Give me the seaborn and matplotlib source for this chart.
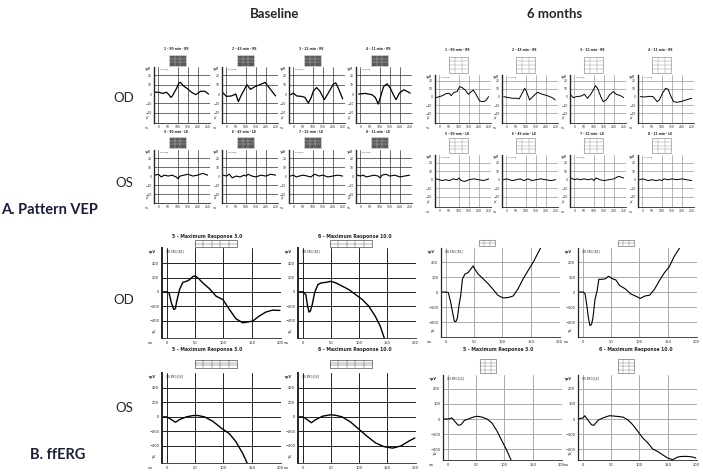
import matplotlib
matplotlib.use('Agg')
import matplotlib.pyplot as plt
from matplotlib.patches import Rectangle
from matplotlib.ticker import MultipleLocator
import seaborn as sns

sns.set_theme(style='white')
plt.rcParams['font.family'] = ['DejaVu Sans']

W, H = 703, 474

# ---------------- data ----------------
vep_titles_od = ['1 - 90 min - RE', '2 - 45 min - RE', '3 - 22 min - RE', '4 - 11 min - RE']
vep_titles_os = ['5 - 90 min - LE', '6 - 45 min - LE', '7 - 22 min - LE', '8 - 11 min - LE']
erg_titles = ['5 - Maximum Response 3.0', '6 - Maximum Response 10.0']

# baseline OD pattern VEP (ms, uV)
b_od1_ms = [-17, 0, 24, 41, 55, 63, 71, 92, 105, 112, 126, 146, 168, 190, 214, 236, 255]
b_od1_uv = [2, 2, 0.7, 2, -1, -3.6, -2, 6, 12, 12.5, 9, 6, 2, -0.7, 3, 3, 0]
b_od2_ms = [-20, 0, 26, 48, 61, 77, 94, 105, 122, 145, 170, 196, 213, 235, 250]
b_od2_uv = [2, -2.5, -2, 0, -8, -0.7, 6, 10, 5, 8, 10, 12.5, 8, 2, -2]
b_od3_ms = [-14, 0, 17, 42, 59, 76, 90, 101, 118, 135, 157, 177, 203, 215, 228, 250]
b_od3_uv = [-0.7, 1, -2, -2.5, -3.6, -9.6, -4, 3, 7, 3, -6, 1, 10.7, 12, 6.4, -5]
b_od4_ms = [-8, 25, 59, 76, 91, 103, 118, 135, 152, 169, 181, 198, 220, 236, 253]
b_od4_uv = [0, 0.7, -0.7, -3.6, -10.7, -2.5, 8, 11, 6.4, -1.4, -6, 1, 4.6, 3, 1]

# OS pattern VEP traces share one time base
vep_os_ms = [-15, 0, 15, 30, 50, 70, 90, 100, 110, 130, 150, 175, 200, 225, 250]
b_os1_uv = [1, 2, -1, 1, 0, 1, -1, -3, 0, 1, 2, 0, 1, 3, 1]
b_os2_uv = [1, 0, 2, -2, 0, -1, 1, 0, 2, 0, -1, 1, 0, 2, 1]
b_os3_uv = [0, 1, -1, 0, 1, 0, -1, 1, 2, 0, 1, -1, 0, 1, 0]
b_os4_uv = [1, 0, 1, -1, 0, 1, 0, -2, 1, 2, 0, 1, -1, 0, 1]

# 6 months OD pattern VEP
m_od1_ms = [-16, 0, 16, 33, 49, 60, 74, 90, 103, 114, 131, 147, 158, 172, 188, 204, 221, 234, 250]
m_od1_uv = [-0.8, 0.4, 1.6, 4, 4.5, 1.6, 5.7, 6.5, 12.6, 11.8, 8.6, 3.3, 5.7, 8.6, 2.4, -4.9, -5.7, -4.9, 0.4]
m_od2_ms = [-13, 11, 31, 52, 65, 80, 93, 101, 118, 134, 158, 183, 208, 232, 248]
m_od2_uv = [0.4, -0.8, -1.6, -1.6, -2.4, 4.5, 10.6, 7.3, -3.7, 0.4, 5.7, 3.3, 1.6, -0.8, -3.7]
m_od3_ms = [-21, -5, 11, 35, 51, 67, 83, 96, 107, 118, 134, 146, 162, 178, 197, 213, 234, 250]
m_od3_uv = [3, -0.8, 0.4, 1.2, 3.3, -1.6, 3.3, 8.6, 13.9, 10.6, 0.4, -5.7, -3.7, 2.4, 6.5, 3.3, 1.6, -0.8]
m_od4_ms = [-10, 14, 38, 54, 75, 86, 102, 118, 131, 142, 158, 174, 197, 221, 250]
m_od4_uv = [0.4, 0, 0.8, 0.4, -5.7, -3.7, 4.5, 10.6, 9.4, 2.4, -5.7, -6.5, -5.7, -3.7, -1.6]

m_os1_uv = [1, 0, -1, 0, -1, 1, 0, 2, -1, -2, 0, 1, 0, -1, 1]
m_os2_uv = [0, 1, 0, -1, 0, 1, -1, 0, 1, -1, 0, 1, 0, -1, 0]
m_os3_uv = [2, 0, 1, 0, 1, 0, 1, -1, 2, 0, -1, 0, 1, 4, 2]
m_os4_uv = [0, 1, 0, -1, 0, -1, 0, -1, 1, 0, 1, 0, 1, 0, -1]

# baseline ffERG
erg_b_od30_ms = [-9, 0, 3.5, 7.6, 12, 15, 16.5, 22, 28, 34, 40, 46, 50, 55, 63.5, 75, 87, 99, 110.6,
                 122, 134, 143, 152, 163.5, 175, 187, 200]
erg_b_od30_uv = [0, 0, -14, -152, -244, -230, -152, 32, 133, 147, 170, 216, 220, 193, 124, 46, -60, -106,
                 -244, -372, -428, -418, -404, -335, -280, -253, -257]
erg_b_od10_ms = [-9, 0, 5, 7.6, 10.6, 13, 16.5, 20.6, 26.5, 32, 41, 50, 59, 70.6, 82, 94, 106, 117.6,
                 129, 138, 144, 148]
erg_b_od10_uv = [0, 0, -37, -175, -280, -267, -175, -14, 101, 124, 133, 147, 124, 78, 32, -37, -106,
                 -198, -336, -474, -612, -700]
erg_b_os30_ms = [-9, 0, 7.6, 15, 22, 34, 46, 55, 66.5, 81, 96, 110.6, 122, 134, 141, 146]
erg_b_os30_uv = [0, 0, -37, -74, -37, 0, 19, 19, 0, -60, -153, -233, -340, -502, -619, -700]
erg_b_os10_ms = [-9, 0, 8, 15, 22, 35, 50, 60, 70, 85, 100, 115, 130, 145, 160, 175, 190, 200]
erg_b_os10_uv = [0, 0, -40, -80, -40, 10, 30, 20, 0, -70, -170, -270, -360, -410, -430, -400, -330, -290]

# 6 months ffERG
erg_m_od30_ms = [-10, 0, 4, 8, 11.8, 14.7, 17.6, 20, 23, 26, 29, 33.5, 39, 43.5, 48, 51, 57, 66, 75,
                 83.5, 92, 101, 110, 119, 127.6, 136.5, 145, 154, 163, 169, 175]
erg_m_od30_uv = [0, 0, -4, -65, -141, -196, -196, -174, -87, -22, 87, 120, 130, 152, 174, 152, 120, 87,
                 54, 17, -22, -39, -37, -26, 22, 87, 141, 196, 261, 304, 350]
erg_m_od10_ms = [-10, 0, 3.5, 6.5, 9.4, 12, 15, 17.6, 21, 25, 28, 34, 40, 45, 52, 58, 65, 75, 84, 96,
                 101, 110, 118, 127, 135, 144, 153, 161, 170, 176]
erg_m_od10_uv = [0, 0, -11, -85, -170, -223, -217, -170, -53, 11, 85, 85, 89, 106, 89, 81, 43, 21, -11,
                 -32, -43, -26, -21, 21, 74, 128, 170, 234, 287, 330]
erg_m_os30_ms = [-11, 0, 7, 12, 18, 23, 29, 36, 45, 51, 60, 69, 78, 87, 96, 105, 114, 120]
erg_m_os30_uv = [0, 0, 7, -16, -42, -38, -9, 0, 13, 18, 13, 0, -27, -82, -149, -216, -293, -340]
erg_m_os10_ms = [-10.6, 0, 3, 9, 15, 19, 26.5, 35, 47, 59, 70.6, 79, 88, 97, 106, 115, 123.5, 132, 141,
                 150, 159, 168, 176, 185, 194, 200]
erg_m_os10_uv = [0, 7, 22, -9, -38, -42, -9, 7, 22, 18, 13, -4, -38, -82, -127, -160, -200, -216, -238,
                 -260, -271, -253, -249, -249, -253, -260]

fig = plt.figure(figsize=(W / 100, H / 100), dpi=100)
fig.patch.set_facecolor('white')

# overlay in pixel coordinates for labels and the little result tables
ov = fig.add_axes([0, 0, 1, 1], zorder=5)
ov.set_xlim(0, W)
ov.set_ylim(H, 0)
ov.axis('off')
ov.patch.set_alpha(0)


def px_axes(x0, y0, x1, y1):
    return fig.add_axes([x0 / W, 1 - y1 / H, (x1 - x0) / W, (y1 - y0) / H])


def table(x0, y0, w, h, nr, nc, face, edge):
    ov.add_patch(Rectangle((x0, y0), w, h, fc=face, ec=edge, lw=0.4))
    for i in range(1, nr):
        ov.plot([x0, x0 + w], [y0 + i * h / nr] * 2, color=edge, lw=0.25)
    for j in range(1, nc):
        ov.plot([x0 + j * w / nc] * 2, [y0, y0 + h], color=edge, lw=0.25)


def vep_panel(x0, y0, y1, ms, uv, ylim, grid_col, lw, title, title_y, tab):
    ax = px_axes(x0, y0, x0 + 56, y1)
    for v in [0, 100, 150, 200]:
        ax.axvline(v, color=grid_col, lw=0.5, zorder=0)
    for v in [-20, -10, 10, 20]:
        ax.axhline(v, color=grid_col, lw=0.5, zorder=0)
    sns.lineplot(x=ms, y=uv, ax=ax, color='black', lw=lw, sort=False, estimator=None)
    ax.set_xlim(-22, 262)
    ax.set_ylim(*ylim)
    ax.set_xticks([0, 50, 100, 150, 200, 250])
    ax.set_yticks([-20, -10, 0, 10, 20])
    ax.xaxis.set_minor_locator(MultipleLocator(10))
    ax.tick_params(axis='both', which='major', length=1.2, width=0.4, pad=0.6, labelsize=2.2)
    ax.tick_params(axis='x', which='minor', length=0.8, width=0.3)
    for s in ['top', 'right']:
        ax.spines[s].set_visible(False)
    ax.spines['left'].set_linewidth(1.0)
    ax.spines['bottom'].set_linewidth(0.6)
    ax.set_xlabel('')
    ax.set_ylabel('')
    ax.text(-0.12, 1.0, '+µV', transform=ax.transAxes, fontsize=1.8, ha='center', va='top', fontweight='bold')
    ax.text(-0.12, 0.08, 'µV', transform=ax.transAxes, fontsize=1.8, ha='center')
    ax.text(-0.14, -0.06, 'ms', transform=ax.transAxes, fontsize=1.8, ha='center', va='top')
    ax.text(0.1, 0.97, 'Cz (Ref)', transform=ax.transAxes, fontsize=1.5, va='top')
    ov.text(x0 + 22, title_y, title, fontsize=2.2, fontweight='bold', ha='center', va='center')
    tab()
    return ax


def erg_panel(x0, x1, y0, y1, ms, uv, ylim, yt, grid_col, lw, spine_lw, tag):
    ax = px_axes(x0, y0, x1, y1)
    for v in [0, 50, 100, 150]:
        ax.axvline(v, color=grid_col, lw=0.7, zorder=0)
    for v in yt:
        ax.axhline(v, color=grid_col, lw=0.7, zorder=0)
    sns.lineplot(x=ms, y=uv, ax=ax, color='black', lw=lw, sort=False, estimator=None)
    ax.set_xlim(-9, 202)
    ax.set_ylim(*ylim)
    ax.set_xticks([0, 50, 100, 150, 200])
    ax.set_yticks(yt)
    ax.tick_params(axis='both', length=1.2, width=0.4, pad=0.8, labelsize=2.6)
    for s in ['top', 'right']:
        ax.spines[s].set_visible(False)
    ax.spines['left'].set_linewidth(spine_lw)
    ax.spines['bottom'].set_linewidth(0.6)
    ax.set_xlabel('')
    ax.set_ylabel('')
    ax.text(-0.09, 0.98, '+µV', transform=ax.transAxes, fontsize=2.4, ha='center', va='top', fontweight='bold')
    ax.text(-0.07, 0.06, 'µV', transform=ax.transAxes, fontsize=2.4, ha='center')
    ax.text(-0.1, -0.03, 'ms', transform=ax.transAxes, fontsize=2.4, ha='center', va='top')
    ax.text(0.03, 0.98, tag, transform=ax.transAxes, fontsize=2.0, va='top')
    return ax


# ---- pattern VEP ----
base_x = [154, 222, 289, 356]
month_x = [435, 502, 570, 638]
b_od = [(b_od1_ms, b_od1_uv), (b_od2_ms, b_od2_uv), (b_od3_ms, b_od3_uv), (b_od4_ms, b_od4_uv)]
b_os = [b_os1_uv, b_os2_uv, b_os3_uv, b_os4_uv]
m_od = [(m_od1_ms, m_od1_uv), (m_od2_ms, m_od2_uv), (m_od3_ms, m_od3_uv), (m_od4_ms, m_od4_uv)]
m_os = [m_os1_uv, m_os2_uv, m_os3_uv, m_os4_uv]

for i in range(4):
    x0 = base_x[i]
    vep_panel(x0, 67, 123, b_od[i][0], b_od[i][1], (-31, 29), '#333333', 0.9, vep_titles_od[i], 49,
              lambda x0=x0: table(x0 + 15, 55, 17, 11, 3, 3, '#5a5a5a', '#dddddd'))
    vep_panel(x0, 150, 203, vep_os_ms, b_os[i], (-30, 29), '#333333', 0.8, vep_titles_os[i], 132,
              lambda x0=x0: table(x0 + 15, 137, 17, 11, 3, 3, '#5a5a5a', '#dddddd'))
    x0 = month_x[i]
    vep_panel(x0, 75, 123, m_od[i][0], m_od[i][1], (-32, 27), '#999999', 0.7, vep_titles_od[i], 50,
              lambda x0=x0: table(x0 + 14, 57, 19, 16, 4, 3, '#ffffff', '#777777'))
    vep_panel(x0, 155, 207, vep_os_ms, m_os[i], (-32, 29), '#999999', 0.7, vep_titles_os[i], 134,
              lambda x0=x0: table(x0 + 14, 138, 19, 15, 4, 3, '#ffffff', '#777777'))

# ---- ffERG ----
base_ylim_od = (-640, 610)
base_yt = [-400, -200, 0, 200, 400]
month_yt = [-200, -100, 0, 100, 200]

erg_panel(162, 281, 248, 338, erg_b_od30_ms, erg_b_od30_uv, base_ylim_od, base_yt, '#222222', 1.0, 1.4, 'OD ERG [RE]')
erg_panel(298, 416, 248, 338, erg_b_od10_ms, erg_b_od10_uv, base_ylim_od, base_yt, '#222222', 1.0, 1.4, 'OD ERG [RE]')
erg_panel(162, 281, 373, 463, erg_b_os30_ms, erg_b_os30_uv, (-635, 605), base_yt, '#222222', 1.0, 1.4, 'OS ERG [LE]')
erg_panel(298, 416, 373, 463, erg_b_os10_ms, erg_b_os10_uv, (-635, 605), base_yt, '#222222', 1.0, 1.4, 'OS ERG [LE]')

erg_panel(441, 560, 248, 337, erg_m_od30_ms, erg_m_od30_uv, (-300, 294), month_yt, '#aaaaaa', 0.8, 0.9, 'OD ERG [RE]')
erg_panel(578, 697, 248, 337, erg_m_od10_ms, erg_m_od10_uv, (-300, 294), month_yt, '#aaaaaa', 0.8, 0.9, 'OD ERG [RE]')
erg_panel(443, 562, 375, 460, erg_m_os30_ms, erg_m_os30_uv, (-273, 293), month_yt, '#aaaaaa', 0.8, 0.9, 'OS ERG [LE]')
erg_panel(578, 697, 375, 460, erg_m_os10_ms, erg_m_os10_uv, (-273, 293), month_yt, '#aaaaaa', 0.8, 0.9, 'OS ERG [LE]')

# ERG titles and tables
ov.text(207, 236, erg_titles[0], fontsize=3.3, fontweight='bold', ha='center', va='center')
ov.text(355, 236, erg_titles[1], fontsize=3.3, fontweight='bold', ha='center', va='center')
ov.text(207, 350, erg_titles[0], fontsize=3.3, fontweight='bold', ha='center', va='center')
ov.text(355, 350, erg_titles[1], fontsize=3.3, fontweight='bold', ha='center', va='center')
ov.text(498, 350, erg_titles[0], fontsize=3.3, fontweight='bold', ha='center', va='center')
ov.text(636, 350, erg_titles[1], fontsize=3.3, fontweight='bold', ha='center', va='center')
table(195, 240, 42, 7, 2, 5, 'white', '#222222')
table(330, 240, 42, 7, 2, 5, 'white', '#222222')
table(195, 360, 42, 8, 3, 5, 'white', '#222222')
table(330, 360, 42, 8, 3, 5, 'white', '#222222')
table(479, 240, 16, 6, 2, 3, 'white', '#555555')
table(618, 240, 16, 6, 2, 3, 'white', '#555555')
table(480, 359, 16, 14, 4, 3, 'white', '#555555')
table(618, 359, 16, 14, 4, 3, 'white', '#555555')

# big labels
big = ['Lato', 'DejaVu Sans']
ov.text(275, 14, 'Baseline', fontsize=9.5, fontweight='bold', ha='center', va='center', family=big)
ov.text(555, 14, '6 months', fontsize=9.5, fontweight='bold', ha='center', va='center', family=big)
ov.text(124, 98, 'OD', fontsize=9.5, ha='center', va='center', family=big)
ov.text(124, 183, 'OS', fontsize=9.5, ha='center', va='center', family=big)
ov.text(1, 210, 'A. Pattern VEP', fontsize=10.5, fontweight='bold', ha='left', va='center', family=big, color='#1b1f3a')
ov.text(124, 300, 'OD', fontsize=9.5, ha='center', va='center', family=big)
ov.text(124, 408, 'OS', fontsize=9.5, ha='center', va='center', family=big)
ov.text(30, 455, 'B. ffERG', fontsize=10.5, fontweight='bold', ha='left', va='center', family=big, color='#1b1f3a')

fig.savefig('out.png', dpi=100, facecolor='white')
